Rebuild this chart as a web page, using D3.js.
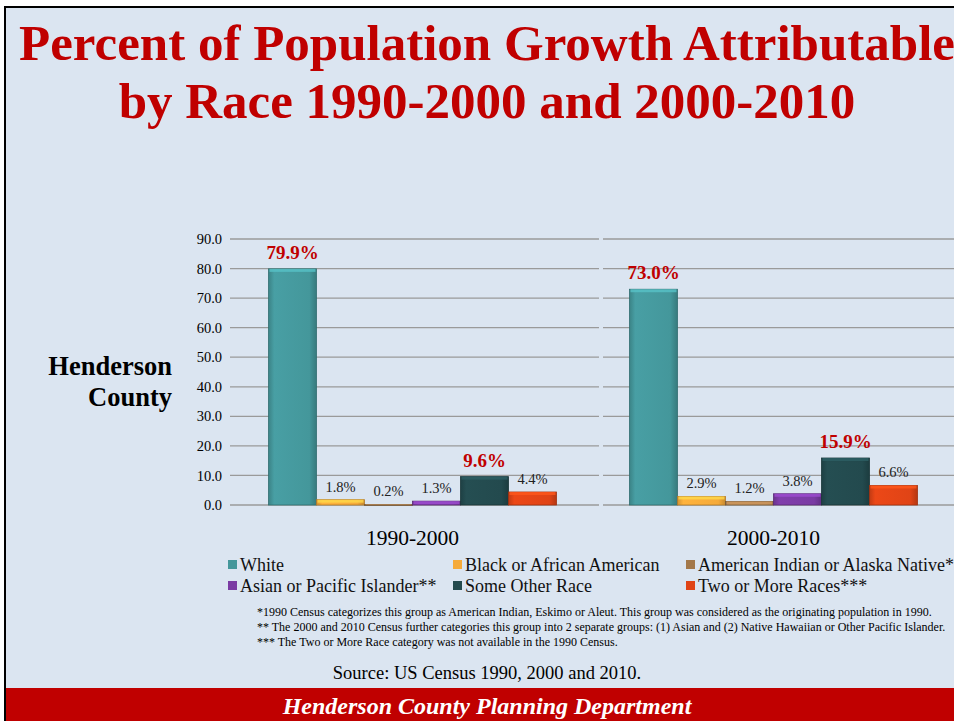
<!DOCTYPE html>
<html><head><meta charset="utf-8">
<script src="https://cdn.jsdelivr.net/npm/d3@7"></script>
<style>html,body{margin:0;padding:0;background:#fff;}svg{display:block;}</style>
</head><body>
<svg id="chart" width="954" height="721"></svg>
<script>
const categories = ["White","Black or African American","American Indian or Alaska Native*","Asian or Pacific Islander**","Some Other Race","Two or More Races***"];
const periods = ["1990-2000","2000-2010"];
const values1990 = [79.9,1.8,0.2,1.3,9.6,4.4];
const values2000 = [73.0,2.9,1.2,3.8,15.9,6.6];
const highlighted = ["White","Some Other Race"];
const yTicks = [0,10,20,30,40,50,60,70,80,90];
const colors = ["#44979b","#f5aa3a","#a3784a","#7a3ba3","#234a4e","#e04416"];
const footnotes = [
  "*1990 Census categorizes this group as American Indian, Eskimo or Aleut. This group was considered as the originating population in 1990.",
  "** The 2000 and 2010 Census further categories this group into 2 separate groups: (1) Asian and (2) Native Hawaiian or Other Pacific Islander.",
  "*** The Two or More Race category was not available in the 1990 Census."
];

const svg = d3.select("#chart");
const serif = "'Liberation Serif','Times New Roman',serif";

// background
svg.append("rect").attr("x",0).attr("y",0).attr("width",954).attr("height",721).attr("fill","#fff");
svg.append("rect").attr("x",5).attr("y",7).attr("width",960).attr("height",720).attr("fill","#dbe5f1").attr("stroke","#000").attr("stroke-width",2);
svg.append("rect").attr("x",6).attr("y",688).attr("width",950).attr("height",33).attr("fill","#c00000");

// title
const title = svg.append("text").attr("x",487).attr("text-anchor","middle").attr("fill","#c00000")
  .attr("font-family",serif).attr("font-weight","bold").attr("font-size",51);
title.append("tspan").attr("x",487).attr("y",60).text("Percent of Population Growth Attributable");
title.append("tspan").attr("x",487).attr("y",118).text("by Race 1990-2000 and 2000-2010");

// scales
const x0 = d3.scaleBand().domain(periods).range([232,954]);
const x1 = d3.scaleBand().domain(categories).range([36.5, x0.bandwidth()-36.5]);
const y = d3.scaleLinear().domain([0,90]).range([505,239]);

// gridlines
const g = svg.append("g");
periods.forEach((p,pi)=>{
  const xs = pi===0 ? x0(p)-2 : x0(p)+10;
  const xe = pi===0 ? x0(p)+x0.bandwidth()+6 : 954;
  g.selectAll(null).data(yTicks).enter().append("line")
    .attr("x1",xs).attr("x2",xe).attr("y1",d=>y(d)).attr("y2",d=>y(d))
    .attr("stroke","#9a9a9a").attr("stroke-width",1.3);
});

// y axis
const yAxis = d3.axisLeft(y).tickValues(yTicks).tickFormat(d3.format(".1f")).tickSize(0).tickPadding(0);
const ya = svg.append("g").attr("transform","translate(222,0)").call(yAxis);
ya.select(".domain").remove();
ya.selectAll("text").attr("font-family",serif).attr("font-size",14.5).attr("fill","#000");

// gradients
const defs = svg.append("defs");
colors.forEach((c,i)=>{
  const gr = defs.append("linearGradient").attr("id","gr"+i).attr("x1","0").attr("x2","1").attr("y1","0").attr("y2","0");
  const base = d3.color(c);
  gr.append("stop").attr("offset","0%").attr("stop-color",base.darker(0.4));
  gr.append("stop").attr("offset","12%").attr("stop-color",base.brighter(0.15));
  gr.append("stop").attr("offset","85%").attr("stop-color",base);
  gr.append("stop").attr("offset","100%").attr("stop-color",base.darker(0.6));
});

// bars
const data = periods.map((p,pi)=>({period:p, values:(pi===0?values1990:values2000).map((v,i)=>({cat:categories[i], v, i}))}));
const groups = svg.selectAll(".grp").data(data).enter().append("g").attr("transform",d=>`translate(${x0(d.period)},0)`);
groups.selectAll("rect.bar").data(d=>d.values).enter().append("rect").attr("class","bar")
  .attr("x",d=>x1(d.cat)).attr("width",x1.bandwidth())
  .attr("y",d=>y(d.v)).attr("height",d=>Math.max(1,y(0)-y(d.v)))
  .attr("fill",d=>`url(#gr${d.i})`).attr("stroke",d=>d3.color(colors[d.i]).darker(0.9)).attr("stroke-width",0.8);
groups.selectAll("rect.top").data(d=>d.values).enter().append("rect").attr("class","top")
  .attr("x",d=>x1(d.cat)+1).attr("width",x1.bandwidth()-2)
  .attr("y",d=>y(d.v)).attr("height",d=>Math.min(3,Math.max(0,y(0)-y(d.v))))
  .attr("fill",d=>d3.color(colors[d.i]).brighter(0.7)).attr("opacity",0.8);

// labels
groups.selectAll("text.lbl").data(d=>d.values).enter().append("text").attr("class","lbl")
  .attr("x",d=>x1(d.cat)+x1.bandwidth()/2)
  .attr("y",d=>y(d.v)-(highlighted.includes(d.cat)?10:8))
  .attr("text-anchor","middle").attr("font-family",serif)
  .attr("font-size",d=>highlighted.includes(d.cat)?19:14.5)
  .attr("font-weight",d=>highlighted.includes(d.cat)?"bold":"normal")
  .attr("fill",d=>highlighted.includes(d.cat)?"#c00000":"#222")
  .text(d=>d.v.toFixed(1)+"%");

// period labels
svg.selectAll(".per").data(periods).enter().append("text")
  .attr("x",d=>x0(d)+x0.bandwidth()/2).attr("y",545).attr("text-anchor","middle")
  .attr("font-family",serif).attr("font-size",21.5).attr("fill","#000").text(d=>d);

// y title
const yt = svg.append("text").attr("text-anchor","end").attr("font-family",serif).attr("font-weight","bold").attr("font-size",26.5).attr("fill","#000");
yt.append("tspan").attr("x",172).attr("y",375).text("Henderson");
yt.append("tspan").attr("x",172).attr("y",406).text("County");

// legend
const legX = [228,453,686];
const leg = svg.selectAll(".leg").data(categories).enter().append("g")
  .attr("transform",(d,i)=>`translate(${legX[i%3]},${565+Math.floor(i/3)*21})`);
leg.append("rect").attr("x",0).attr("y",-5).attr("width",9).attr("height",9).attr("fill",(d,i)=>colors[i]);
leg.append("text").attr("x",12).attr("y",6).attr("font-family",serif).attr("font-size",18).attr("fill","#111").text(d=>d);

// footnotes
svg.selectAll(".fn").data(footnotes).enter().append("text")
  .attr("x",257).attr("y",(d,i)=>616+i*15).attr("font-family",serif).attr("font-size",12).attr("fill","#000").text(d=>d);

// source
svg.append("text").attr("x",487).attr("y",679).attr("text-anchor","middle").attr("font-family",serif).attr("font-size",18.5).attr("fill","#000")
  .text("Source: US Census 1990, 2000 and 2010.");

// footer
svg.append("text").attr("x",487).attr("y",714).attr("text-anchor","middle").attr("font-family",serif).attr("font-size",24)
  .attr("font-weight","bold").attr("font-style","italic").attr("fill","#fff").text("Henderson County Planning Department");
</script>
</body></html>
